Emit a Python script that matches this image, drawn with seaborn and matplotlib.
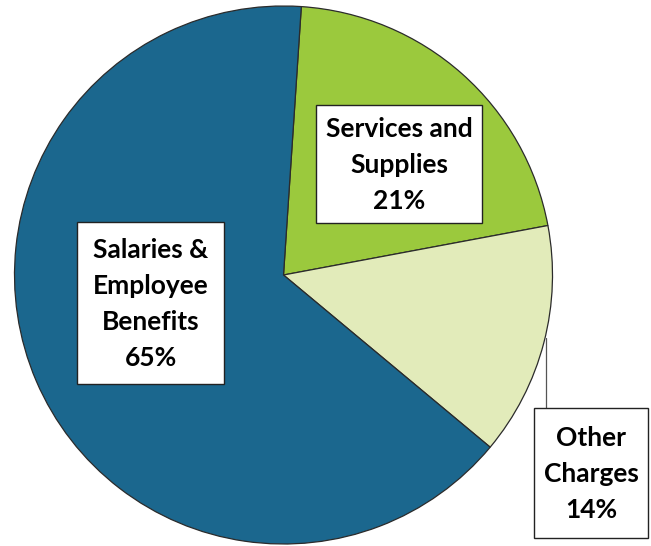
import matplotlib
matplotlib.use("Agg")
import matplotlib.pyplot as plt
from matplotlib.patches import Rectangle
import seaborn as sns

# Data
categories = ["Services and\nSupplies", "Other\nCharges", "Salaries &\nEmployee\nBenefits"]
shares = [21, 14, 65]
colors_hex = ["#9BC93D", "#E2EBBA", "#1B678E"]

sns.set_theme(style="white")
plt.rcParams['font.family'] = ['Lato', 'DejaVu Sans']

W, H = 651, 546
fig = plt.figure(figsize=(W / 100, H / 100), dpi=100)
ax = fig.add_axes([0, 0, 1, 1])
ax.set_xlim(0, W)
ax.set_ylim(0, H)
ax.axis("off")

palette = sns.color_palette(colors_hex)
cx, cy, r = 283.5, H - 275, 269
ax.pie(shares, colors=palette, startangle=86.2, counterclock=False,
       center=(cx, cy), radius=r, frame=True,
       wedgeprops=dict(edgecolor="#2b2b2b", linewidth=0.9))
ax.set_xlim(0, W)
ax.set_ylim(0, H)
ax.axis("off")

# label boxes (pixel layout: left, top, right, bottom)
boxes = [(316, 105, 482, 223), (534, 408, 648, 538), (77, 222, 224, 384)]
for (l, t, rr, b), cat, val in zip(boxes, categories, shares):
    ax.add_patch(Rectangle((l, H - b), rr - l, b - t, facecolor="white",
                           edgecolor="#222222", linewidth=1.0, zorder=5))
    ax.text((l + rr) / 2, H - (t + b) / 2 - 1, f"{cat}\n{val}%",
            ha="center", va="center", fontsize=19, fontweight="bold",
            color="black", linespacing=1.6, zorder=6)

# leader line for Other Charges
ax.plot([546, 546], [H - 338, H - 408], color="#555555", linewidth=0.9, zorder=4)

fig.savefig("out.png", dpi=100)
